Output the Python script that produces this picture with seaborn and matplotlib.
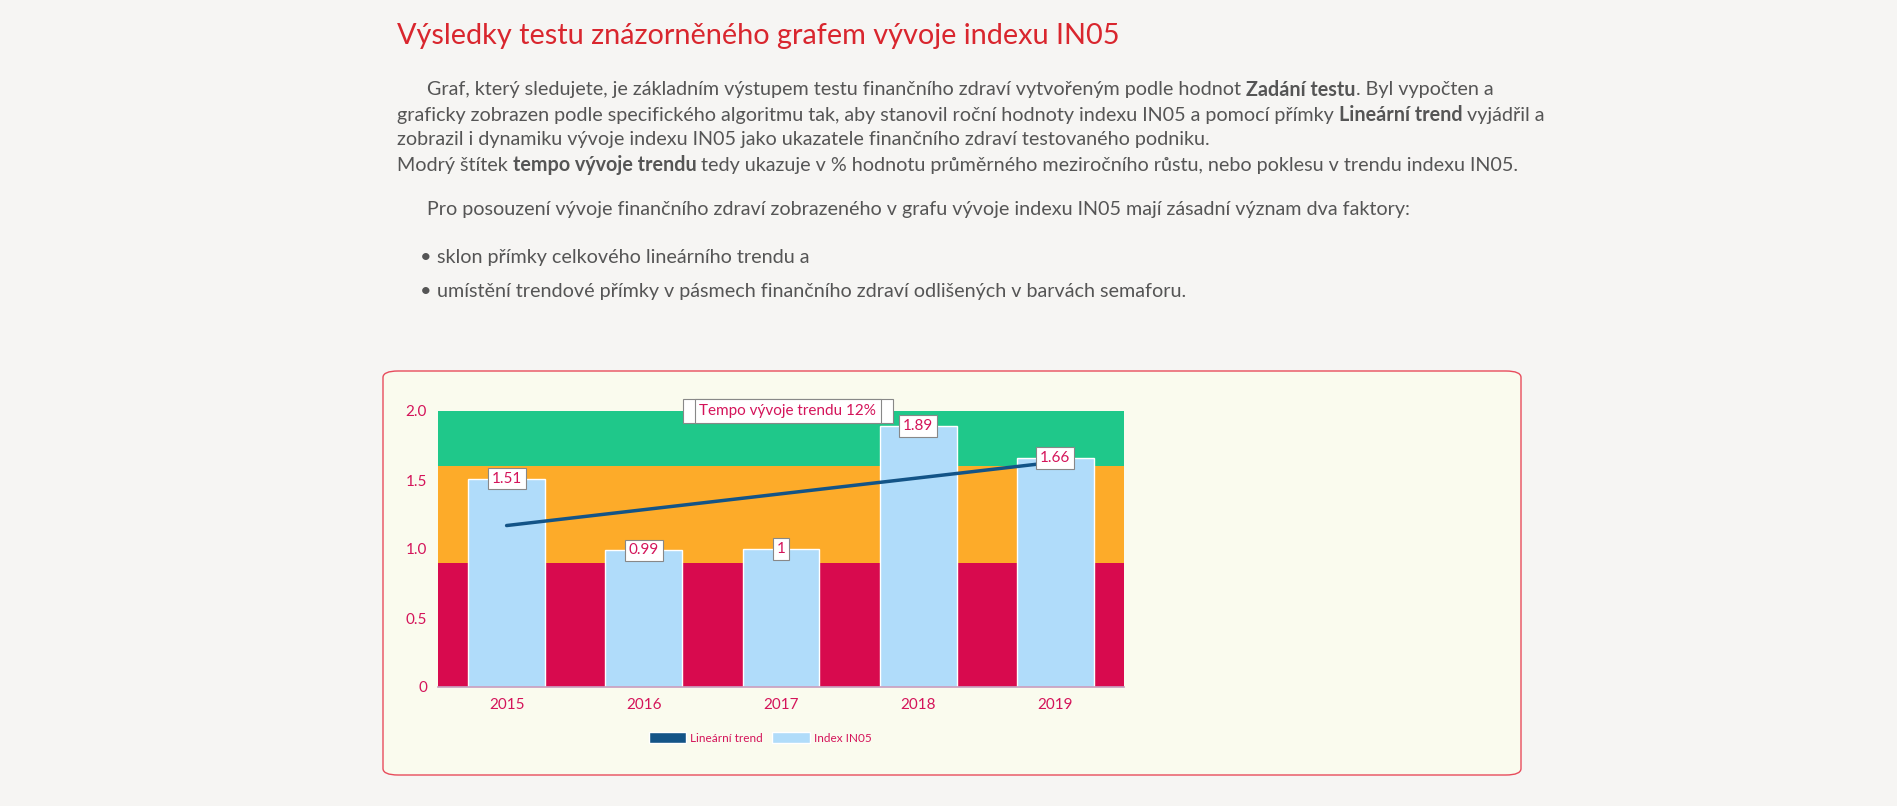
import matplotlib
matplotlib.use("Agg")
import matplotlib.pyplot as plt
import seaborn as sns
import pandas as pd
from matplotlib.patches import FancyBboxPatch, Patch

years = ["2015", "2016", "2017", "2018", "2019"]
index_in05 = [1.51, 0.99, 1.0, 1.89, 1.66]
value_labels = ["1.51", "0.99", "1", "1.89", "1.66"]
trend = [1.17, 1.285, 1.40, 1.515, 1.63]
bands = [(0, 0.9, "#d80a4e"), (0.9, 1.6, "#fdab29"), (1.6, 2.0, "#1fc88a")]
yticks = [0, 0.5, 1.0, 1.5, 2.0]
ytick_labels = ["0", "0.5", "1.0", "1.5", "2.0"]

sns.set_theme(style="white")
plt.rcParams['font.family'] = ['Lato', 'DejaVu Sans']
W, H = 1897, 806
fig = plt.figure(figsize=(W / 100, H / 100), dpi=100, facecolor="#f6f5f3")

TXT = "#555555"
def fx(x): return x / W
def fy(y): return 1 - y / H

fig.text(fx(397), fy(36), "Výsledky testu znázorněného grafem vývoje indexu IN05",
         color="#d9262e", fontsize=20.8, va="center")

renderer = fig.canvas.get_renderer()
def rich(x, y, segs, size=14.2):
    for s, bold in segs:
        t = fig.text(fx(x), fy(y), s, color=TXT, fontsize=size, va="center",
                     fontweight="bold" if bold else "normal")
        x += t.get_window_extent(renderer).width

rich(427, 90, [("Graf, který sledujete, je základním výstupem testu finančního zdraví vytvořeným podle hodnot ", False), ("Zadání testu", True), (". Byl vypočten a", False)])
rich(397, 115, [("graficky zobrazen podle specifického algoritmu tak, aby stanovil roční hodnoty indexu IN05 a pomocí přímky ", False), ("Lineární trend", True), (" vyjádřil a", False)])
rich(397, 140, [("zobrazil i dynamiku vývoje indexu IN05 jako ukazatele finančního zdraví testovaného podniku.", False)])
rich(397, 165, [("Modrý štítek ", False), ("tempo vývoje trendu", True), (" tedy ukazuje v % hodnotu průměrného meziročního růstu, nebo poklesu v trendu indexu IN05.", False)])
rich(427, 209, [("Pro posouzení vývoje finančního zdraví zobrazeného v grafu vývoje indexu IN05 mají zásadní význam dva faktory:", False)])
rich(420, 257, [("•", False)])
rich(437, 257, [("sklon přímky celkového lineárního trendu a", False)])
rich(420, 292, [("•", False)])
rich(437, 292, [("umístění trendové přímky v pásmech finančního zdraví odlišených v barvách semaforu.", False)])

box = FancyBboxPatch((fx(383), fy(775)), fx(1521 - 383), (775 - 371) / H,
                     boxstyle="round,pad=0,rounding_size=0.008", transform=fig.transFigure,
                     facecolor="#fafbee", edgecolor="#e84c5c", linewidth=1, zorder=0)
fig.patches.append(box)

ax = fig.add_axes([fx(438), fy(687), fx(1124 - 438), (687 - 411) / H])
ax.set_zorder(3)
ax.patch.set_alpha(0)
ax.set_xlim(-0.5, 4.5)
ax.set_ylim(0, 2.0)
for lo, hi, c in bands:
    ax.axhspan(lo, hi, color=c, zorder=0, lw=0)

df = pd.DataFrame({"year": years, "v": index_in05})
sns.barplot(data=df, x="year", y="v", color="#b0dcfa", saturation=1, width=0.56, ax=ax, zorder=2)
ax.set_xlim(-0.5, 4.5)
ax.set_ylim(0, 2.0)
ax.plot(range(5), trend, color="#135487", lw=2.5, zorder=3)

for i, (v, lab) in enumerate(zip(index_in05, value_labels)):
    ax.text(i, v, lab, ha="center", va="center", color="#d4145a", fontsize=11, zorder=5,
            bbox=dict(boxstyle="square,pad=0.25", fc="white", ec="#888888", lw=0.8))
ax.text(2.05, 2.0, "Tempo vývoje trendu 12%", ha="center", va="center", color="#d4145a",
        fontsize=11, zorder=5, bbox=dict(boxstyle="square,pad=0.3", fc="white", ec="#888888", lw=0.8))
ax.text(2.05, 2.0, " " * 52, ha="center", va="center", fontsize=11, zorder=4,
        bbox=dict(boxstyle="square,pad=0.3", fc="white", ec="#888888", lw=0.8))

ax.set_yticks(yticks)
ax.set_yticklabels(ytick_labels)
ax.set_xlabel("")
ax.set_ylabel("")
ax.tick_params(colors="#d4145a", labelsize=11, length=0, pad=8)
ax.tick_params(axis="y", length=5, color="#aaaaaa", pad=3)
for s in ["top", "right", "left"]:
    ax.spines[s].set_visible(False)
ax.spines["bottom"].set_color("#c9a0c0")

handles = [Patch(facecolor="#135487"), Patch(facecolor="#b0dcfa")]
leg = fig.legend(handles, ["Lineární trend", "Index IN05"], loc="center",
                 bbox_to_anchor=(fx(760), fy(738)), ncol=2, frameon=False, fontsize=8.5,
                 handlelength=3.2, handleheight=1.0, columnspacing=0.8, handletextpad=0.3)
for t in leg.get_texts():
    t.set_color("#d4145a")

fig.savefig("out.png", dpi=100, facecolor=fig.get_facecolor())
